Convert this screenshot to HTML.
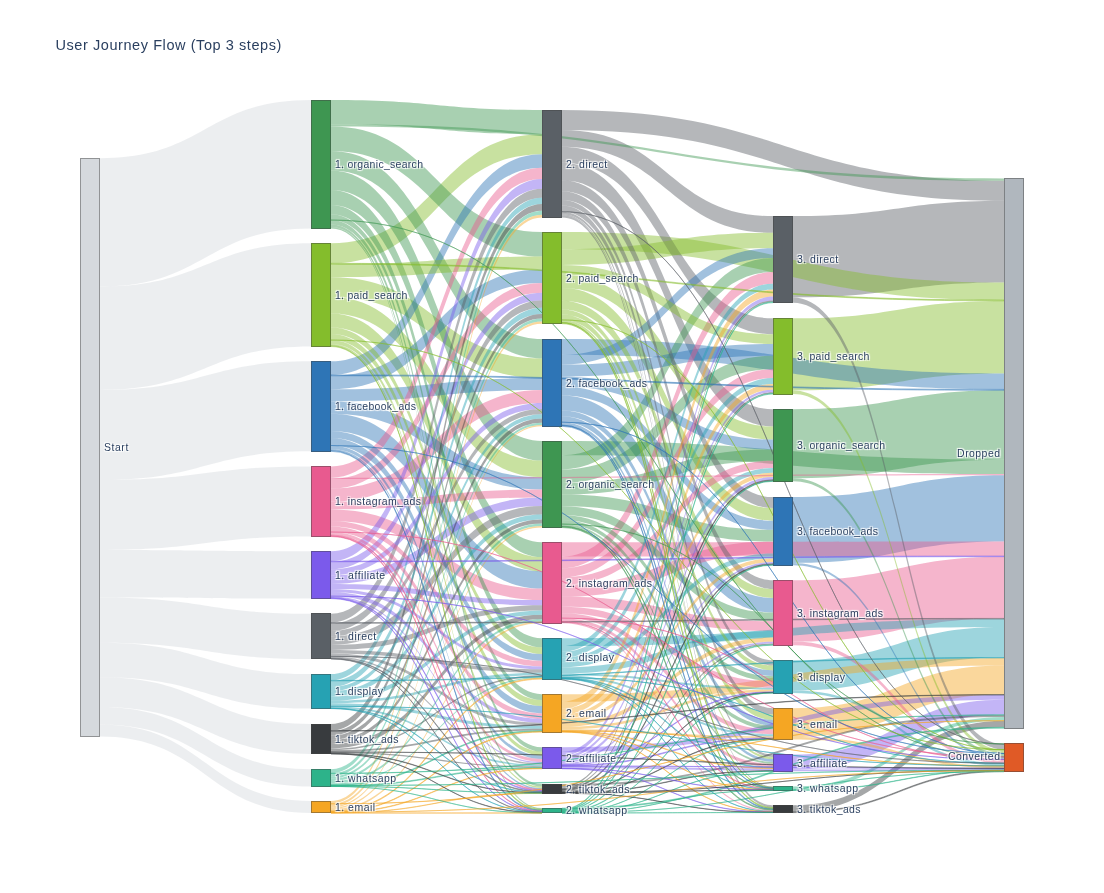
<!DOCTYPE html>
<html><head><meta charset="utf-8"><title>User Journey Flow</title>
<style>html,body{margin:0;padding:0;background:#fff;}body{width:1104px;height:893px;overflow:hidden;font-family:"Liberation Sans",sans-serif;}svg{display:block;}svg text{font-family:"Liberation Sans",sans-serif;fill:#2a3f5f;}svg text{-webkit-font-smoothing:antialiased;}.lb{font-size:10.5px;text-shadow:1px 1px 1px #fff,1px -1px 1px #fff,-1px 1px 1px #fff,-1px -1px 1px #fff;}.nd{stroke:#444;stroke-width:0.5;shape-rendering:crispEdges;}</style></head><body>
<svg style="will-change:transform" width="1104" height="893" viewBox="0 0 1104 893">
<rect x="0" y="0" width="1104" height="893" fill="#fff"/>
<g fill-opacity="0.45" stroke-opacity="0.45">
<g fill="#d5d9dd" stroke="#d5d9dd" stroke-width="0">
<path d="M100,158.2C205.5,158.2 205.5,100 311,100L311,228.4C205.5,228.4 205.5,286.6 100,286.6Z"/>
<path d="M100,286.6C205.5,286.6 205.5,243.3 311,243.3L311,346.5C205.5,346.5 205.5,389.9 100,389.9Z"/>
<path d="M100,389.9C205.5,389.9 205.5,361.3 311,361.3L311,451.3C205.5,451.3 205.5,479.9 100,479.9Z"/>
</g>
<g fill="#5a6066" stroke="#5a6066" stroke-width="0">
<path d="M793,216.1C898.5,216.1 898.5,200.8 1004,200.8L1004,282.6C898.5,282.6 898.5,297.4 793,297.4Z"/>
</g>
<g fill="#84bd2c" stroke="#84bd2c" stroke-width="0">
<path d="M793,318.3C898.5,318.3 898.5,300.9 1004,300.9L1004,373.6C898.5,373.6 898.5,390.5 793,390.5Z"/>
</g>
<g fill="#d5d9dd" stroke="#d5d9dd" stroke-width="0">
<path d="M100,479.9C205.5,479.9 205.5,466.4 311,466.4L311,536.5C205.5,536.5 205.5,550 100,550Z"/>
</g>
<g fill="#3e9651" stroke="#3e9651" stroke-width="0">
<path d="M793,409.2C898.5,409.2 898.5,390.3 1004,390.3L1004,459.7C898.5,459.7 898.5,478.2 793,478.2Z"/>
</g>
<g fill="#2e75b6" stroke="#2e75b6" stroke-width="0">
<path d="M793,497.1C898.5,497.1 898.5,475.3 1004,475.3L1004,541.5C898.5,541.5 898.5,562.9 793,562.9Z"/>
</g>
<g fill="#e85a8f" stroke="#e85a8f" stroke-width="0">
<path d="M793,580.3C898.5,580.3 898.5,556.7 1004,556.7L1004,618.4C898.5,618.4 898.5,641.6 793,641.6Z"/>
</g>
<g fill="#d5d9dd" stroke="#d5d9dd" stroke-width="0">
<path d="M100,550C205.5,550 205.5,551.3 311,551.3L311,598.6C205.5,598.6 205.5,597.4 100,597.4Z"/>
<path d="M100,597.4C205.5,597.4 205.5,613.7 311,613.7L311,659C205.5,659 205.5,642.7 100,642.7Z"/>
<path d="M100,642.7C205.5,642.7 205.5,674.1 311,674.1L311,708.6C205.5,708.6 205.5,677.2 100,677.2Z"/>
</g>
<g fill="#26a2b3" stroke="#26a2b3" stroke-width="0">
<path d="M793,660.3C898.5,660.3 898.5,627 1004,627L1004,657.5C898.5,657.5 898.5,690.6 793,690.6Z"/>
</g>
<g fill="#d5d9dd" stroke="#d5d9dd" stroke-width="0">
<path d="M100,677.2C205.5,677.2 205.5,724 311,724L311,753.9C205.5,753.9 205.5,707.1 100,707.1Z"/>
</g>
<g fill="#f5a623" stroke="#f5a623" stroke-width="0">
<path d="M793,708.2C898.5,708.2 898.5,665.5 1004,665.5L1004,694.6C898.5,694.6 898.5,737.1 793,737.1Z"/>
</g>
<g fill="#84bd2c" stroke="#84bd2c" stroke-width="0">
<path d="M331,243.3C436.5,243.3 436.5,134.2 542,134.2L542,154.2C436.5,154.2 436.5,263.3 331,263.3Z"/>
</g>
<g fill="#3e9651" stroke="#3e9651" stroke-width="0">
<path d="M331,126.6C436.5,126.6 436.5,232.1 542,232.1L542,256.6C436.5,256.6 436.5,151.1 331,151.1Z"/>
<path d="M331,100C436.5,100 436.5,110 542,110L542,134.2C436.5,134.2 436.5,124.3 331,124.3Z"/>
</g>
<g fill="#5a6066" stroke="#5a6066" stroke-width="0">
<path d="M562,110C783,110 783,180.8 1004,180.8L1004,200.8C783,200.8 783,129.9 562,129.9Z"/>
</g>
<g fill="#84bd2c" stroke="#84bd2c" stroke-width="0">
<path d="M331,277.2C436.5,277.2 436.5,358.4 542,358.4L542,378C436.5,378 436.5,296.9 331,296.9Z"/>
</g>
<g fill="#3e9651" stroke="#3e9651" stroke-width="0">
<path d="M331,170.5C436.5,170.5 436.5,441 542,441L542,460.6C436.5,460.6 436.5,190.1 331,190.1Z"/>
<path d="M331,151.1C436.5,151.1 436.5,339.1 542,339.1L542,358.4C436.5,358.4 436.5,170.5 331,170.5Z"/>
</g>
<g fill="#5a6066" stroke="#5a6066" stroke-width="0">
<path d="M562,162.8C667.5,162.8 667.5,409.2 773,409.2L773,426.5C667.5,426.5 667.5,180.2 562,180.2Z"/>
</g>
<g fill="#2e75b6" stroke="#2e75b6" stroke-width="0">
<path d="M331,413.8C436.5,413.8 436.5,571.2 542,571.2L542,588.6C436.5,588.6 436.5,431.1 331,431.1Z"/>
</g>
<g fill="#d5d9dd" stroke="#d5d9dd" stroke-width="0">
<path d="M100,707.1C205.5,707.1 205.5,769.2 311,769.2L311,786.5C205.5,786.5 205.5,724.4 100,724.4Z"/>
</g>
<g fill="#84bd2c" stroke="#84bd2c" stroke-width="0">
<path d="M562,232.1C783,232.1 783,282.6 1004,282.6L1004,300C783,300 783,249.3 562,249.3Z"/>
</g>
<g fill="#5a6066" stroke="#5a6066" stroke-width="0">
<path d="M562,129.9C667.5,129.9 667.5,216.1 773,216.1L773,232.8C667.5,232.8 667.5,146.7 562,146.7Z"/>
</g>
<g fill="#84bd2c" stroke="#84bd2c" stroke-width="0">
<path d="M331,296.9C436.5,296.9 436.5,460.6 542,460.6L542,477.2C436.5,477.2 436.5,313.4 331,313.4Z"/>
</g>
<g fill="#5a6066" stroke="#5a6066" stroke-width="0">
<path d="M562,146.7C667.5,146.7 667.5,318.3 773,318.3L773,334.2C667.5,334.2 667.5,162.8 562,162.8Z"/>
</g>
<g fill="#2e75b6" stroke="#2e75b6" stroke-width="0">
<path d="M562,339.1C783,339.1 783,373.6 1004,373.6L1004,389.4C783,389.4 783,354.8 562,354.8Z"/>
</g>
<g fill="#84bd2c" stroke="#84bd2c" stroke-width="0">
<path d="M562,249.3C667.5,249.3 667.5,232.8 773,232.8L773,248.3C667.5,248.3 667.5,264.9 562,264.9Z"/>
</g>
<g fill="#7b5aeb" stroke="#7b5aeb" stroke-width="0">
<path d="M793,754.5C898.5,754.5 898.5,699.7 1004,699.7L1004,714.8C898.5,714.8 898.5,769.5 793,769.5Z"/>
</g>
<g fill="#3e9651" stroke="#3e9651" stroke-width="0">
<path d="M331,190.1C436.5,190.1 436.5,542.2 542,542.2L542,557.1C436.5,557.1 436.5,205 331,205Z"/>
</g>
<g fill="#2e75b6" stroke="#2e75b6" stroke-width="0">
<path d="M562,395.6C667.5,395.6 667.5,597.9 773,597.9L773,612.6C667.5,612.6 667.5,410.4 562,410.4Z"/>
</g>
<g fill="#e85a8f" stroke="#e85a8f" stroke-width="0">
<path d="M562,542.2C783,542.2 783,541.5 1004,541.5L1004,556C783,556 783,556.6 562,556.6Z"/>
</g>
<g fill="#3e9651" stroke="#3e9651" stroke-width="0">
<path d="M562,441C783,441 783,459.7 1004,459.7L1004,474.1C783,474.1 783,455.3 562,455.3Z"/>
<path d="M562,455.3C667.5,455.3 667.5,258 773,258L773,272.1C667.5,272.1 667.5,469.5 562,469.5Z"/>
</g>
<g fill="#84bd2c" stroke="#84bd2c" stroke-width="0">
<path d="M331,313.4C436.5,313.4 436.5,557.1 542,557.1L542,571.2C436.5,571.2 436.5,327.6 331,327.6Z"/>
</g>
<g fill="#3e9651" stroke="#3e9651" stroke-width="0">
<path d="M562,469.5C667.5,469.5 667.5,355.7 773,355.7L773,369.2C667.5,369.2 667.5,483.1 562,483.1Z"/>
</g>
<g fill="#2e75b6" stroke="#2e75b6" stroke-width="0">
<path d="M331,361.3C436.5,361.3 436.5,154.2 542,154.2L542,167.8C436.5,167.8 436.5,374.9 331,374.9Z"/>
<path d="M331,375.8C436.5,375.8 436.5,269.5 542,269.5L542,283C436.5,283 436.5,389.3 331,389.3Z"/>
</g>
<g fill="#84bd2c" stroke="#84bd2c" stroke-width="0">
<path d="M562,274.7C667.5,274.7 667.5,426.5 773,426.5L773,439.6C667.5,439.6 667.5,287.9 562,287.9Z"/>
<path d="M331,264.2C436.5,264.2 436.5,256.6 542,256.6L542,269.5C436.5,269.5 436.5,277.2 331,277.2Z"/>
</g>
<g fill="#e85a8f" stroke="#e85a8f" stroke-width="0">
<path d="M331,488.6C436.5,488.6 436.5,390.1 542,390.1L542,402.9C436.5,402.9 436.5,501.5 331,501.5Z"/>
</g>
<g fill="#84bd2c" stroke="#84bd2c" stroke-width="0">
<path d="M562,287.9C667.5,287.9 667.5,508 773,508L773,520.7C667.5,520.7 667.5,300.7 562,300.7Z"/>
</g>
<g fill="#2e75b6" stroke="#2e75b6" stroke-width="0">
<path d="M331,401.4C436.5,401.4 436.5,477.2 542,477.2L542,489.5C436.5,489.5 436.5,413.8 331,413.8Z"/>
</g>
<g fill="#e85a8f" stroke="#e85a8f" stroke-width="0">
<path d="M562,584.7C667.5,584.7 667.5,541.6 773,541.6L773,553.6C667.5,553.6 667.5,596.8 562,596.8Z"/>
</g>
<g fill="#2e75b6" stroke="#2e75b6" stroke-width="0">
<path d="M331,389.3C436.5,389.3 436.5,378 542,378L542,390.1C436.5,390.1 436.5,401.4 331,401.4Z"/>
</g>
<g fill="#d5d9dd" stroke="#d5d9dd" stroke-width="0">
<path d="M100,724.4C205.5,724.4 205.5,801 311,801L311,813C205.5,813 205.5,736.4 100,736.4Z"/>
</g>
<g fill="#2e75b6" stroke="#2e75b6" stroke-width="0">
<path d="M562,364.6C667.5,364.6 667.5,343.9 773,343.9L773,355.7C667.5,355.7 667.5,376.5 562,376.5Z"/>
</g>
<g fill="#3e9651" stroke="#3e9651" stroke-width="0">
<path d="M562,494.5C667.5,494.5 667.5,529.8 773,529.8L773,541.6C667.5,541.6 667.5,506.3 562,506.3Z"/>
</g>
<g fill="#e85a8f" stroke="#e85a8f" stroke-width="0">
<path d="M562,556.6C667.5,556.6 667.5,272.1 773,272.1L773,283.7C667.5,283.7 667.5,568.3 562,568.3Z"/>
<path d="M331,509.4C436.5,509.4 436.5,588.6 542,588.6L542,600.1C436.5,600.1 436.5,521 331,521Z"/>
</g>
<g fill="#3e9651" stroke="#3e9651" stroke-width="0">
<path d="M562,483.1C667.5,483.1 667.5,449.5 773,449.5L773,460.8C667.5,460.8 667.5,494.5 562,494.5Z"/>
</g>
<g fill="#e85a8f" stroke="#e85a8f" stroke-width="0">
<path d="M331,466.4C436.5,466.4 436.5,167.8 542,167.8L542,179.1C436.5,179.1 436.5,477.7 331,477.7Z"/>
</g>
<g fill="#5a6066" stroke="#5a6066" stroke-width="0">
<path d="M562,180.2C667.5,180.2 667.5,497.1 773,497.1L773,508C667.5,508 667.5,191.3 562,191.3Z"/>
</g>
<g fill="#e85a8f" stroke="#e85a8f" stroke-width="0">
<path d="M562,596.8C667.5,596.8 667.5,621.2 773,621.2L773,631.1C667.5,631.1 667.5,606.8 562,606.8Z"/>
</g>
<g fill="#2e75b6" stroke="#2e75b6" stroke-width="0">
<path d="M562,376.5C667.5,376.5 667.5,439.6 773,439.6L773,449.5C667.5,449.5 667.5,386.4 562,386.4Z"/>
<path d="M562,354.8C667.5,354.8 667.5,248.3 773,248.3L773,258C667.5,258 667.5,364.6 562,364.6Z"/>
</g>
<g fill="#7b5aeb" stroke="#7b5aeb" stroke-width="0">
<path d="M331,551.3C436.5,551.3 436.5,179.1 542,179.1L542,188.8C436.5,188.8 436.5,561.1 331,561.1Z"/>
</g>
<g fill="#84bd2c" stroke="#84bd2c" stroke-width="0">
<path d="M562,264.9C667.5,264.9 667.5,334.2 773,334.2L773,343.9C667.5,343.9 667.5,274.7 562,274.7Z"/>
</g>
<g fill="#e85a8f" stroke="#e85a8f" stroke-width="0">
<path d="M331,478.9C436.5,478.9 436.5,283 542,283L542,292.7C436.5,292.7 436.5,488.6 331,488.6Z"/>
</g>
<g fill="#2e75b6" stroke="#2e75b6" stroke-width="0">
<path d="M562,386.4C667.5,386.4 667.5,520.7 773,520.7L773,529.8C667.5,529.8 667.5,395.6 562,395.6Z"/>
</g>
<g fill="#3e9651" stroke="#3e9651" stroke-width="0">
<path d="M331,205C436.5,205 436.5,638.3 542,638.3L542,647.4C436.5,647.4 436.5,214.2 331,214.2Z"/>
</g>
<g fill="#e85a8f" stroke="#e85a8f" stroke-width="0">
<path d="M562,568.3C667.5,568.3 667.5,369.2 773,369.2L773,378.1C667.5,378.1 667.5,577.3 562,577.3Z"/>
</g>
<g fill="#84bd2c" stroke="#84bd2c" stroke-width="0">
<path d="M562,300.7C667.5,300.7 667.5,589 773,589L773,597.9C667.5,597.9 667.5,309.6 562,309.6Z"/>
</g>
<g fill="#5a6066" stroke="#5a6066" stroke-width="0">
<path d="M331,613.7C436.5,613.7 436.5,188.8 542,188.8L542,197.7C436.5,197.7 436.5,622.6 331,622.6Z"/>
<path d="M562,191.3C667.5,191.3 667.5,580.3 773,580.3L773,589C667.5,589 667.5,200.1 562,200.1Z"/>
</g>
<g fill="#7b5aeb" stroke="#7b5aeb" stroke-width="0">
<path d="M331,575.3C436.5,575.3 436.5,497.4 542,497.4L542,506C436.5,506 436.5,583.9 331,583.9Z"/>
</g>
<g fill="#3e9651" stroke="#3e9651" stroke-width="0">
<path d="M562,506.3C667.5,506.3 667.5,612.6 773,612.6L773,621.2C667.5,621.2 667.5,514.9 562,514.9Z"/>
</g>
<g fill="#5a6066" stroke="#5a6066" stroke-width="0">
<path d="M331,636.4C436.5,636.4 436.5,506 542,506L542,514.5C436.5,514.5 436.5,644.9 331,644.9Z"/>
</g>
<g fill="#e85a8f" stroke="#e85a8f" stroke-width="0">
<path d="M331,501.5C436.5,501.5 436.5,489.5 542,489.5L542,497.4C436.5,497.4 436.5,509.4 331,509.4Z"/>
</g>
<g fill="#26a2b3" stroke="#26a2b3" stroke-width="0">
<path d="M562,638.3C783,638.3 783,619.1 1004,619.1L1004,627C783,627 783,646.1 562,646.1Z"/>
</g>
<g fill="#5a6066" stroke="#5a6066" stroke-width="0">
<path d="M331,623.3C436.5,623.3 436.5,300.2 542,300.2L542,307.8C436.5,307.8 436.5,631 331,631Z"/>
</g>
<g fill="#f5a623" stroke="#f5a623" stroke-width="0">
<path d="M562,694.2C783,694.2 783,658 1004,658L1004,665.5C783,665.5 783,701.7 562,701.7Z"/>
</g>
<g fill="#7b5aeb" stroke="#7b5aeb" stroke-width="0">
<path d="M331,561.8C436.5,561.8 436.5,292.7 542,292.7L542,300.2C436.5,300.2 436.5,569.3 331,569.3Z"/>
</g>
<g fill="#2e75b6" stroke="#2e75b6" stroke-width="0">
<path d="M331,438.1C436.5,438.1 436.5,706 542,706L542,713.4C436.5,713.4 436.5,445.5 331,445.5Z"/>
</g>
<g fill="#e85a8f" stroke="#e85a8f" stroke-width="0">
<path d="M562,577.3C667.5,577.3 667.5,460.8 773,460.8L773,468.1C667.5,468.1 667.5,584.7 562,584.7Z"/>
</g>
<g fill="#f5a623" stroke="#f5a623" stroke-width="0">
<path d="M562,701.7C667.5,701.7 667.5,289.4 773,289.4L773,296.5C667.5,296.5 667.5,708.8 562,708.8Z"/>
</g>
<g fill="#2e75b6" stroke="#2e75b6" stroke-width="0">
<path d="M331,431.1C436.5,431.1 436.5,653.9 542,653.9L542,660.8C436.5,660.8 436.5,438.1 331,438.1Z"/>
</g>
<g fill="#383b3e" stroke="#383b3e" stroke-width="0">
<path d="M331,724C436.5,724 436.5,204 542,204L542,210.7C436.5,210.7 436.5,730.7 331,730.7Z"/>
<path d="M793,805.3C898.5,805.3 898.5,720.8 1004,720.8L1004,727.3C898.5,727.3 898.5,811.8 793,811.8Z"/>
</g>
<g fill="#e85a8f" stroke="#e85a8f" stroke-width="0">
<path d="M562,606.8C667.5,606.8 667.5,681.2 773,681.2L773,687.7C667.5,687.7 667.5,613.3 562,613.3Z"/>
</g>
<g fill="#84bd2c" stroke="#84bd2c" stroke-width="0">
<path d="M331,327.6C436.5,327.6 436.5,647.4 542,647.4L542,653.9C436.5,653.9 436.5,334 331,334Z"/>
</g>
<g fill="#26a2b3" stroke="#26a2b3" stroke-width="0">
<path d="M562,667.2C667.5,667.2 667.5,631.1 773,631.1L773,637.5C667.5,637.5 667.5,673.6 562,673.6Z"/>
<path d="M331,674.1C436.5,674.1 436.5,197.7 542,197.7L542,204C436.5,204 436.5,680.4 331,680.4Z"/>
</g>
<g fill="#5a6066" stroke="#5a6066" stroke-width="0">
<path d="M562,205.4C667.5,205.4 667.5,708.2 773,708.2L773,714.3C667.5,714.3 667.5,211.6 562,211.6Z"/>
</g>
<g fill="#26a2b3" stroke="#26a2b3" stroke-width="0">
<path d="M331,680.9C436.5,680.9 436.5,307.8 542,307.8L542,313.9C436.5,313.9 436.5,687 331,687Z"/>
</g>
<g fill="#7b5aeb" stroke="#7b5aeb" stroke-width="0">
<path d="M331,569.3C436.5,569.3 436.5,402.9 542,402.9L542,408.9C436.5,408.9 436.5,575.3 331,575.3Z"/>
</g>
<g fill="#84bd2c" stroke="#84bd2c" stroke-width="0">
<path d="M331,334C436.5,334 436.5,700.1 542,700.1L542,706C436.5,706 436.5,340 331,340Z"/>
</g>
<g fill="#3e9651" stroke="#3e9651" stroke-width="0">
<path d="M331,214.2C436.5,214.2 436.5,694.2 542,694.2L542,700.1C436.5,700.1 436.5,220 331,220Z"/>
</g>
<g fill="#f5a623" stroke="#f5a623" stroke-width="0">
<path d="M562,708.8C667.5,708.8 667.5,383.9 773,383.9L773,389.7C667.5,389.7 667.5,714.7 562,714.7Z"/>
</g>
<g fill="#2e75b6" stroke="#2e75b6" stroke-width="0">
<path d="M562,416.3C667.5,416.3 667.5,719.8 773,719.8L773,725.6C667.5,725.6 667.5,422.1 562,422.1Z"/>
<path d="M562,410.4C667.5,410.4 667.5,670.3 773,670.3L773,676.1C667.5,676.1 667.5,416.3 562,416.3Z"/>
</g>
<g fill="#26a2b3" stroke="#26a2b3" stroke-width="0">
<path d="M562,651.8C667.5,651.8 667.5,378.1 773,378.1L773,383.9C667.5,383.9 667.5,657.6 562,657.6Z"/>
<path d="M562,646.1C667.5,646.1 667.5,283.7 773,283.7L773,289.4C667.5,289.4 667.5,651.8 562,651.8Z"/>
</g>
<g fill="#e85a8f" stroke="#e85a8f" stroke-width="0">
<path d="M331,521C436.5,521 436.5,660.8 542,660.8L542,666.4C436.5,666.4 436.5,526.6 331,526.6Z"/>
</g>
<g fill="#84bd2c" stroke="#84bd2c" stroke-width="0">
<path d="M562,314.4C667.5,314.4 667.5,714.3 773,714.3L773,719.8C667.5,719.8 667.5,319.9 562,319.9Z"/>
</g>
<g fill="#5a6066" stroke="#5a6066" stroke-width="0">
<path d="M331,631C436.5,631 436.5,408.9 542,408.9L542,414.3C436.5,414.3 436.5,636.4 331,636.4Z"/>
</g>
<g fill="#e85a8f" stroke="#e85a8f" stroke-width="0">
<path d="M331,526.6C436.5,526.6 436.5,713.4 542,713.4L542,718.8C436.5,718.8 436.5,532 331,532Z"/>
</g>
<g fill="#5a6066" stroke="#5a6066" stroke-width="0">
<path d="M562,200.1C667.5,200.1 667.5,660.3 773,660.3L773,665.6C667.5,665.6 667.5,205.4 562,205.4Z"/>
<path d="M793,297.4C898.5,297.4 898.5,744.1 1004,744.1L1004,749.5C898.5,749.5 898.5,302.7 793,302.7Z"/>
</g>
<g fill="#7b5aeb" stroke="#7b5aeb" stroke-width="0">
<path d="M331,583.9C436.5,583.9 436.5,600.1 542,600.1L542,605.3C436.5,605.3 436.5,589.1 331,589.1Z"/>
</g>
<g fill="#3e9651" stroke="#3e9651" stroke-width="0">
<path d="M562,514.9C667.5,514.9 667.5,676.1 773,676.1L773,681.2C667.5,681.2 667.5,520.1 562,520.1Z"/>
</g>
<g fill="#5a6066" stroke="#5a6066" stroke-width="0">
<path d="M331,644.9C436.5,644.9 436.5,605.3 542,605.3L542,610.4C436.5,610.4 436.5,650 331,650Z"/>
</g>
<g fill="#26a2b3" stroke="#26a2b3" stroke-width="0">
<path d="M331,691.2C436.5,691.2 436.5,514.5 542,514.5L542,519.6C436.5,519.6 436.5,696.3 331,696.3Z"/>
<path d="M562,662.3C667.5,662.3 667.5,553.6 773,553.6L773,558.4C667.5,558.4 667.5,667.2 562,667.2Z"/>
</g>
<g fill="#e85a8f" stroke="#e85a8f" stroke-width="0">
<path d="M562,613.3C667.5,613.3 667.5,729.5 773,729.5L773,734.2C667.5,734.2 667.5,618.1 562,618.1Z"/>
</g>
<g fill="#84bd2c" stroke="#84bd2c" stroke-width="0">
<path d="M562,309.6C667.5,309.6 667.5,665.6 773,665.6L773,670.3C667.5,670.3 667.5,314.4 562,314.4Z"/>
</g>
<g fill="#7b5aeb" stroke="#7b5aeb" stroke-width="0">
<path d="M562,747.2C783,747.2 783,695 1004,695L1004,699.7C783,699.7 783,751.9 562,751.9Z"/>
</g>
<g fill="#26a2b3" stroke="#26a2b3" stroke-width="0">
<path d="M562,657.6C667.5,657.6 667.5,468.1 773,468.1L773,472.7C667.5,472.7 667.5,662.3 562,662.3Z"/>
</g>
<g fill="#383b3e" stroke="#383b3e" stroke-width="0">
<path d="M331,743.9C436.5,743.9 436.5,614.7 542,614.7L542,619.3C436.5,619.3 436.5,748.5 331,748.5Z"/>
<path d="M331,731.1C436.5,731.1 436.5,313.9 542,313.9L542,318.5C436.5,318.5 436.5,735.7 331,735.7Z"/>
</g>
<g fill="#3e9651" stroke="#3e9651" stroke-width="0">
<path d="M331,220.1C436.5,220.1 436.5,747.2 542,747.2L542,751.7C436.5,751.7 436.5,224.6 331,224.6Z"/>
</g>
<g fill="#26a2b3" stroke="#26a2b3" stroke-width="0">
<path d="M331,696.3C436.5,696.3 436.5,610.4 542,610.4L542,614.7C436.5,614.7 436.5,700.7 331,700.7Z"/>
</g>
<g fill="#f5a623" stroke="#f5a623" stroke-width="0">
<path d="M562,722.6C667.5,722.6 667.5,637.5 773,637.5L773,641.8C667.5,641.8 667.5,726.9 562,726.9Z"/>
</g>
<g fill="#383b3e" stroke="#383b3e" stroke-width="0">
<path d="M331,735.7C436.5,735.7 436.5,418.6 542,418.6L542,422.8C436.5,422.8 436.5,740 331,740Z"/>
</g>
<g fill="#f5a623" stroke="#f5a623" stroke-width="0">
<path d="M562,714.7C667.5,714.7 667.5,472.7 773,472.7L773,477C667.5,477 667.5,718.9 562,718.9Z"/>
</g>
<g fill="#26a2b3" stroke="#26a2b3" stroke-width="0">
<path d="M331,687C436.5,687 436.5,414.3 542,414.3L542,418.6C436.5,418.6 436.5,691.2 331,691.2Z"/>
</g>
<g fill="#7b5aeb" stroke="#7b5aeb" stroke-width="0">
<path d="M331,592C436.5,592 436.5,718.8 542,718.8L542,722.9C436.5,722.9 436.5,596.1 331,596.1Z"/>
</g>
<g fill="#2db38a" stroke="#2db38a" stroke-width="0">
<path d="M331,769.2C436.5,769.2 436.5,210.7 542,210.7L542,214.7C436.5,214.7 436.5,773.2 331,773.2Z"/>
</g>
<g fill="#383b3e" stroke="#383b3e" stroke-width="0">
<path d="M331,740C436.5,740 436.5,519.6 542,519.6L542,523.5C436.5,523.5 436.5,743.9 331,743.9Z"/>
</g>
<g fill="#7b5aeb" stroke="#7b5aeb" stroke-width="0">
<path d="M562,751.9C667.5,751.9 667.5,296.5 773,296.5L773,300.4C667.5,300.4 667.5,755.8 562,755.8Z"/>
</g>
<g fill="#84bd2c" stroke="#84bd2c" stroke-width="0">
<path d="M331,340.1C436.5,340.1 436.5,751.7 542,751.7L542,755.6C436.5,755.6 436.5,344 331,344Z"/>
</g>
<g fill="#3e9651" stroke="#3e9651" stroke-width="0">
<path d="M562,520.1C667.5,520.1 667.5,725.6 773,725.6L773,729.5C667.5,729.5 667.5,524 562,524Z"/>
</g>
<g fill="#f5a623" stroke="#f5a623" stroke-width="0">
<path d="M562,718.9C667.5,718.9 667.5,558.4 773,558.4L773,562.1C667.5,562.1 667.5,722.6 562,722.6Z"/>
</g>
<g fill="#e85a8f" stroke="#e85a8f" stroke-width="0">
<path d="M793,641.6C898.5,641.6 898.5,759.5 1004,759.5L1004,763.2C898.5,763.2 898.5,645.2 793,645.2Z"/>
</g>
<g fill="#84bd2c" stroke="#84bd2c" stroke-width="0">
<path d="M793,390.5C898.5,390.5 898.5,749.7 1004,749.7L1004,753.4C898.5,753.4 898.5,394.1 793,394.1Z"/>
</g>
<g fill="#2db38a" stroke="#2db38a" stroke-width="0">
<path d="M793,786.4C898.5,786.4 898.5,716.9 1004,716.9L1004,720.6C898.5,720.6 898.5,790 793,790Z"/>
</g>
<g fill="#5a6066" stroke="#5a6066" stroke-width="0">
<path d="M331,650C436.5,650 436.5,669.3 542,669.3L542,672.8C436.5,672.8 436.5,653.5 331,653.5Z"/>
</g>
<g fill="#2e75b6" stroke="#2e75b6" stroke-width="0">
<path d="M331,445.5C436.5,445.5 436.5,755.6 542,755.6L542,759C436.5,759 436.5,448.9 331,448.9Z"/>
</g>
<g fill="#e85a8f" stroke="#e85a8f" stroke-width="0">
<path d="M562,618.2C667.5,618.2 667.5,763.8 773,763.8L773,767.1C667.5,767.1 667.5,621.5 562,621.5Z"/>
</g>
<g fill="#3e9651" stroke="#3e9651" stroke-width="0">
<path d="M793,478.2C898.5,478.2 898.5,753.6 1004,753.6L1004,756.8C898.5,756.8 898.5,481.3 793,481.3Z"/>
</g>
<g fill="#26a2b3" stroke="#26a2b3" stroke-width="0">
<path d="M331,703.2C436.5,703.2 436.5,725.8 542,725.8L542,728.8C436.5,728.8 436.5,706.3 331,706.3Z"/>
</g>
<g fill="#e85a8f" stroke="#e85a8f" stroke-width="0">
<path d="M331,532C436.5,532 436.5,759 542,759L542,762C436.5,762 436.5,535 331,535Z"/>
</g>
<g fill="#2db38a" stroke="#2db38a" stroke-width="0">
<path d="M331,773.5C436.5,773.5 436.5,318.5 542,318.5L542,321.4C436.5,321.4 436.5,776.4 331,776.4Z"/>
</g>
<g fill="#7b5aeb" stroke="#7b5aeb" stroke-width="0">
<path d="M331,589.1C436.5,589.1 436.5,666.4 542,666.4L542,669.3C436.5,669.3 436.5,592 331,592Z"/>
<path d="M562,758.3C667.5,758.3 667.5,477 773,477L773,479.8C667.5,479.8 667.5,761.2 562,761.2Z"/>
</g>
<g fill="#5a6066" stroke="#5a6066" stroke-width="0">
<path d="M331,653.5C436.5,653.5 436.5,722.9 542,722.9L542,725.8C436.5,725.8 436.5,656.4 331,656.4Z"/>
</g>
<g fill="#2e75b6" stroke="#2e75b6" stroke-width="0">
<path d="M562,422.2C667.5,422.2 667.5,759.1 773,759.1L773,761.9C667.5,761.9 667.5,425 562,425Z"/>
</g>
<g fill="#f5a623" stroke="#f5a623" stroke-width="0">
<path d="M331,801C436.5,801 436.5,214.7 542,214.7L542,217.4C436.5,217.4 436.5,803.7 331,803.7Z"/>
</g>
<g fill="#26a2b3" stroke="#26a2b3" stroke-width="0">
<path d="M331,700.7C436.5,700.7 436.5,672.8 542,672.8L542,675.3C436.5,675.3 436.5,703.2 331,703.2Z"/>
<path d="M793,690.6C898.5,690.6 898.5,763.3 1004,763.3L1004,765.9C898.5,765.9 898.5,693.1 793,693.1Z"/>
</g>
<g fill="#2db38a" stroke="#2db38a" stroke-width="0">
<path d="M331,778.6C436.5,778.6 436.5,523.5 542,523.5L542,526C436.5,526 436.5,781.1 331,781.1Z"/>
</g>
<g fill="#7b5aeb" stroke="#7b5aeb" stroke-width="0">
<path d="M562,755.8C667.5,755.8 667.5,389.7 773,389.7L773,392.2C667.5,392.2 667.5,758.3 562,758.3Z"/>
</g>
<g fill="#3e9651" stroke="#3e9651" stroke-width="0">
<path d="M331,224.6C436.5,224.6 436.5,784 542,784L542,786.5C436.5,786.5 436.5,227.1 331,227.1Z"/>
</g>
<g fill="#5a6066" stroke="#5a6066" stroke-width="0">
<path d="M562,211.8C667.5,211.8 667.5,754.5 773,754.5L773,756.9C667.5,756.9 667.5,214.2 562,214.2Z"/>
</g>
<g fill="#f5a623" stroke="#f5a623" stroke-width="0">
<path d="M562,726.9C667.5,726.9 667.5,689.5 773,689.5L773,691.8C667.5,691.8 667.5,729.3 562,729.3Z"/>
</g>
<g fill="#2e75b6" stroke="#2e75b6" stroke-width="0">
<path d="M793,562.9C898.5,562.9 898.5,756.9 1004,756.9L1004,759.3C898.5,759.3 898.5,565.2 793,565.2Z"/>
</g>
<g fill="#f5a623" stroke="#f5a623" stroke-width="0">
<path d="M331,803.9C436.5,803.9 436.5,321.4 542,321.4L542,323.7C436.5,323.7 436.5,806.2 331,806.2Z"/>
</g>
<g fill="#3e9651" stroke="#3e9651" stroke-width="0">
<path d="M331,124.3C667.5,124.3 667.5,178.5 1004,178.5L1004,180.8C667.5,180.8 667.5,126.6 331,126.6Z"/>
</g>
<g fill="#f5a623" stroke="#f5a623" stroke-width="0">
<path d="M793,737.1C898.5,737.1 898.5,766 1004,766L1004,768.3C898.5,768.3 898.5,739.4 793,739.4Z"/>
</g>
<g fill="#2db38a" stroke="#2db38a" stroke-width="0">
<path d="M331,781.1C436.5,781.1 436.5,619.3 542,619.3L542,621.6C436.5,621.6 436.5,783.4 331,783.4Z"/>
</g>
<g fill="#84bd2c" stroke="#84bd2c" stroke-width="0">
<path d="M562,320C667.5,320 667.5,756.9 773,756.9L773,759.1C667.5,759.1 667.5,322.3 562,322.3Z"/>
</g>
<g fill="#7b5aeb" stroke="#7b5aeb" stroke-width="0">
<path d="M562,766.1C667.5,766.1 667.5,768.5 773,768.5L773,770.6C667.5,770.6 667.5,768.3 562,768.3Z"/>
</g>
<g fill="#5a6066" stroke="#5a6066" stroke-width="0">
<path d="M562,215.2C667.5,215.2 667.5,805.3 773,805.3L773,807.5C667.5,807.5 667.5,217.4 562,217.4Z"/>
</g>
<g fill="#2db38a" stroke="#2db38a" stroke-width="0">
<path d="M331,776.4C436.5,776.4 436.5,422.8 542,422.8L542,425C436.5,425 436.5,778.6 331,778.6Z"/>
</g>
<g fill="#26a2b3" stroke="#26a2b3" stroke-width="0">
<path d="M562,675.5C667.5,675.5 667.5,734.2 773,734.2L773,736.4C667.5,736.4 667.5,677.6 562,677.6Z"/>
</g>
<g fill="#3e9651" stroke="#3e9651" stroke-width="0">
<path d="M562,524.1C667.5,524.1 667.5,761.9 773,761.9L773,763.8C667.5,763.8 667.5,526.1 562,526.1Z"/>
</g>
<g fill="#26a2b3" stroke="#26a2b3" stroke-width="0">
<path d="M562,673.6C667.5,673.6 667.5,687.7 773,687.7L773,689.5C667.5,689.5 667.5,675.5 562,675.5Z"/>
</g>
<g fill="#383b3e" stroke="#383b3e" stroke-width="0">
<path d="M331,750.2C436.5,750.2 436.5,728.8 542,728.8L542,730.6C436.5,730.6 436.5,752 331,752Z"/>
<path d="M562,784C783,784 783,715.1 1004,715.1L1004,716.9C783,716.9 783,785.8 562,785.8Z"/>
</g>
<g fill="#7b5aeb" stroke="#7b5aeb" stroke-width="0">
<path d="M793,769.5C898.5,769.5 898.5,768.4 1004,768.4L1004,770.2C898.5,770.2 898.5,771.3 793,771.3Z"/>
<path d="M562,761.2C667.5,761.2 667.5,562.1 773,562.1L773,563.8C667.5,563.8 667.5,763 562,763Z"/>
<path d="M562,763C667.5,763 667.5,641.8 773,641.8L773,643.5C667.5,643.5 667.5,764.7 562,764.7Z"/>
</g>
<g fill="#f5a623" stroke="#f5a623" stroke-width="0">
<path d="M331,809C436.5,809 436.5,621.6 542,621.6L542,623.3C436.5,623.3 436.5,810.7 331,810.7Z"/>
</g>
<g fill="#383b3e" stroke="#383b3e" stroke-width="0">
<path d="M331,748.5C436.5,748.5 436.5,675.3 542,675.3L542,677C436.5,677 436.5,750.2 331,750.2Z"/>
</g>
<g fill="#5a6066" stroke="#5a6066" stroke-width="0">
<path d="M331,656.4C436.5,656.4 436.5,763.2 542,763.2L542,764.8C436.5,764.8 436.5,658 331,658Z"/>
</g>
<g fill="#84bd2c" stroke="#84bd2c" stroke-width="0">
<path d="M331,344C436.5,344 436.5,786.5 542,786.5L542,788.1C436.5,788.1 436.5,345.6 331,345.6Z"/>
</g>
<g fill="#26a2b3" stroke="#26a2b3" stroke-width="0">
<path d="M331,706.3C436.5,706.3 436.5,764.8 542,764.8L542,766.4C436.5,766.4 436.5,707.9 331,707.9Z"/>
</g>
<g fill="#f5a623" stroke="#f5a623" stroke-width="0">
<path d="M562,729.3C667.5,729.3 667.5,736.4 773,736.4L773,737.9C667.5,737.9 667.5,730.9 562,730.9Z"/>
</g>
<g fill="#383b3e" stroke="#383b3e" stroke-width="0">
<path d="M562,785.8C667.5,785.8 667.5,300.4 773,300.4L773,301.9C667.5,301.9 667.5,787.4 562,787.4Z"/>
</g>
<g fill="#2e75b6" stroke="#2e75b6" stroke-width="0">
<path d="M331,448.9C436.5,448.9 436.5,788.1 542,788.1L542,789.6C436.5,789.6 436.5,450.4 331,450.4Z"/>
</g>
<g fill="#f5a623" stroke="#f5a623" stroke-width="0">
<path d="M331,807.5C436.5,807.5 436.5,526 542,526L542,527.5C436.5,527.5 436.5,809 331,809Z"/>
</g>
<g fill="#3e9651" stroke="#3e9651" stroke-width="0">
<path d="M331,227.1C436.5,227.1 436.5,808.1 542,808.1L542,809.4C436.5,809.4 436.5,228.4 331,228.4Z"/>
</g>
<g fill="#383b3e" stroke="#383b3e" stroke-width="0">
<path d="M562,787.4C667.5,787.4 667.5,392.2 773,392.2L773,393.4C667.5,393.4 667.5,788.7 562,788.7Z"/>
</g>
<g fill="#f5a623" stroke="#f5a623" stroke-width="0">
<path d="M331,806.2C436.5,806.2 436.5,425 542,425L542,426.3C436.5,426.3 436.5,807.5 331,807.5Z"/>
</g>
<g fill="#7b5aeb" stroke="#7b5aeb" stroke-width="0">
<path d="M331,596.2C436.5,596.2 436.5,762 542,762L542,763.2C436.5,763.2 436.5,597.4 331,597.4Z"/>
</g>
<g fill="#2db38a" stroke="#2db38a" stroke-width="0">
<path d="M331,783.4C436.5,783.4 436.5,677 542,677L542,678.2C436.5,678.2 436.5,784.6 331,784.6Z"/>
</g>
<g fill="#e85a8f" stroke="#e85a8f" stroke-width="0">
<path d="M331,477.7C667.5,477.7 667.5,474.1 1004,474.1L1004,475.3C667.5,475.3 667.5,478.9 331,478.9Z"/>
<path d="M562,622.1C667.5,622.1 667.5,810.2 773,810.2L773,811.4C667.5,811.4 667.5,623.3 562,623.3Z"/>
</g>
<g fill="#383b3e" stroke="#383b3e" stroke-width="0">
<path d="M331,752.1C436.5,752.1 436.5,766.4 542,766.4L542,767.5C436.5,767.5 436.5,753.2 331,753.2Z"/>
<path d="M562,790.6C667.5,790.6 667.5,643.5 773,643.5L773,644.6C667.5,644.6 667.5,791.7 562,791.7Z"/>
</g>
<g fill="#5a6066" stroke="#5a6066" stroke-width="0">
<path d="M562,214.2C667.5,214.2 667.5,786.4 773,786.4L773,787.4C667.5,787.4 667.5,215.2 562,215.2Z"/>
</g>
<g fill="#e85a8f" stroke="#e85a8f" stroke-width="0">
<path stroke-width="1" d="M331,535C436.5,535 436.5,789.6 542,789.6L542,790.6C436.5,790.6 436.5,536 331,536Z"/>
</g>
<g fill="#383b3e" stroke="#383b3e" stroke-width="0">
<path stroke-width="1" d="M562,788.7C667.5,788.7 667.5,479.8 773,479.8L773,480.8C667.5,480.8 667.5,789.7 562,789.7Z"/>
</g>
<g fill="#84bd2c" stroke="#84bd2c" stroke-width="0">
<path stroke-width="1" d="M331,263.3C667.5,263.3 667.5,300 1004,300L1004,300.9C667.5,300.9 667.5,264.2 331,264.2Z"/>
</g>
<g fill="#2e75b6" stroke="#2e75b6" stroke-width="0">
<path stroke-width="1" d="M331,374.9C667.5,374.9 667.5,389.4 1004,389.4L1004,390.3C667.5,390.3 667.5,375.8 331,375.8Z"/>
</g>
<g fill="#3e9651" stroke="#3e9651" stroke-width="0">
<path stroke-width="1" d="M562,526.6C667.5,526.6 667.5,809.3 773,809.3L773,810.2C667.5,810.2 667.5,527.5 562,527.5Z"/>
</g>
<g fill="#2e75b6" stroke="#2e75b6" stroke-width="0">
<path stroke-width="1" d="M562,425.4C667.5,425.4 667.5,808.4 773,808.4L773,809.3C667.5,809.3 667.5,426.3 562,426.3Z"/>
</g>
<g fill="#84bd2c" stroke="#84bd2c" stroke-width="0">
<path stroke-width="1" d="M562,322.8C667.5,322.8 667.5,807.5 773,807.5L773,808.4C667.5,808.4 667.5,323.7 562,323.7Z"/>
</g>
<g fill="#2db38a" stroke="#2db38a" stroke-width="0">
<path stroke-width="1" d="M562,808.1C783,808.1 783,727.3 1004,727.3L1004,728.2C783,728.2 783,809 562,809Z"/>
</g>
<g fill="#84bd2c" stroke="#84bd2c" stroke-width="0">
<path stroke-width="1" d="M331,345.6C436.5,345.6 436.5,809.4 542,809.4L542,810.3C436.5,810.3 436.5,346.5 331,346.5Z"/>
</g>
<g fill="#383b3e" stroke="#383b3e" stroke-width="0">
<path stroke-width="1" d="M562,789.7C667.5,789.7 667.5,563.8 773,563.8L773,564.7C667.5,564.7 667.5,790.6 562,790.6Z"/>
</g>
<g fill="#2e75b6" stroke="#2e75b6" stroke-width="0">
<path stroke-width="1" d="M331,450.4C436.5,450.4 436.5,810.3 542,810.3L542,811.2C436.5,811.2 436.5,451.3 331,451.3Z"/>
</g>
<g fill="#f5a623" stroke="#f5a623" stroke-width="0">
<path stroke-width="1" d="M331,810.7C436.5,810.7 436.5,678.2 542,678.2L542,679.1C436.5,679.1 436.5,811.6 331,811.6Z"/>
</g>
<g fill="#2db38a" stroke="#2db38a" stroke-width="0">
<path stroke-width="1" d="M331,784.6C436.5,784.6 436.5,730.6 542,730.6L542,731.5C436.5,731.5 436.5,785.4 331,785.4Z"/>
</g>
<g fill="#7b5aeb" stroke="#7b5aeb" stroke-width="0">
<path stroke-width="1" d="M331,597.4C436.5,597.4 436.5,790.6 542,790.6L542,791.4C436.5,791.4 436.5,598.2 331,598.2Z"/>
<path stroke-width="1" d="M562,765.3C667.5,765.3 667.5,737.9 773,737.9L773,738.7C667.5,738.7 667.5,766.1 562,766.1Z"/>
</g>
<g fill="#383b3e" stroke="#383b3e" stroke-width="0">
<path stroke-width="1" d="M793,811.8C898.5,811.8 898.5,770.7 1004,770.7L1004,771.6C898.5,771.6 898.5,812.6 793,812.6Z"/>
</g>
<g fill="#2db38a" stroke="#2db38a" stroke-width="0">
<path stroke-width="1" d="M562,809C667.5,809 667.5,301.9 773,301.9L773,302.7C667.5,302.7 667.5,809.8 562,809.8Z"/>
</g>
<g fill="#26a2b3" stroke="#26a2b3" stroke-width="0">
<path stroke-width="1" d="M562,677.7C667.5,677.7 667.5,767.1 773,767.1L773,767.9C667.5,767.9 667.5,678.5 562,678.5Z"/>
</g>
<g fill="#2db38a" stroke="#2db38a" stroke-width="0">
<path stroke-width="1" d="M331,785.5C436.5,785.5 436.5,767.5 542,767.5L542,768.3C436.5,768.3 436.5,786.2 331,786.2Z"/>
</g>
<g fill="#7b5aeb" stroke="#7b5aeb" stroke-width="0">
<path stroke-width="1" d="M331,561.1C667.5,561.1 667.5,556 1004,556L1004,556.7C667.5,556.7 667.5,561.8 331,561.8Z"/>
</g>
<g fill="#5a6066" stroke="#5a6066" stroke-width="0">
<path stroke-width="1" d="M331,622.6C667.5,622.6 667.5,618.4 1004,618.4L1004,619.1C667.5,619.1 667.5,623.3 331,623.3Z"/>
<path stroke-width="1" d="M331,658C436.5,658 436.5,791.4 542,791.4L542,792.1C436.5,792.1 436.5,658.7 331,658.7Z"/>
</g>
<g fill="#2db38a" stroke="#2db38a" stroke-width="0">
<path stroke-width="1" d="M562,809.8C667.5,809.8 667.5,393.4 773,393.4L773,394.1C667.5,394.1 667.5,810.4 562,810.4Z"/>
</g>
<g fill="#f5a623" stroke="#f5a623" stroke-width="0">
<path stroke-width="1" d="M331,811.6C436.5,811.6 436.5,731.5 542,731.5L542,732.1C436.5,732.1 436.5,812.2 331,812.2Z"/>
</g>
<g fill="#2db38a" stroke="#2db38a" stroke-width="0">
<path stroke-width="1" d="M562,811.5C667.5,811.5 667.5,644.6 773,644.6L773,645.2C667.5,645.2 667.5,812.1 562,812.1Z"/>
</g>
<g fill="#7b5aeb" stroke="#7b5aeb" stroke-width="0">
<path stroke-width="1" d="M562,764.7C667.5,764.7 667.5,691.8 773,691.8L773,692.4C667.5,692.4 667.5,765.3 562,765.3Z"/>
</g>
<g fill="#e85a8f" stroke="#e85a8f" stroke-width="0">
<path stroke-width="1" d="M562,621.5C667.5,621.5 667.5,788.8 773,788.8L773,789.4C667.5,789.4 667.5,622.1 562,622.1Z"/>
</g>
<g fill="#f5a623" stroke="#f5a623" stroke-width="0">
<path stroke-width="1" d="M562,730.9C667.5,730.9 667.5,767.9 773,767.9L773,768.5C667.5,768.5 667.5,731.5 562,731.5Z"/>
</g>
<g fill="#e85a8f" stroke="#e85a8f" stroke-width="0">
<path stroke-width="1" d="M331,536C436.5,536 436.5,811.2 542,811.2L542,811.7C436.5,811.7 436.5,536.5 331,536.5Z"/>
</g>
<g fill="#2db38a" stroke="#2db38a" stroke-width="0">
<path stroke-width="1" d="M562,810.4C667.5,810.4 667.5,480.8 773,480.8L773,481.3C667.5,481.3 667.5,811 562,811Z"/>
</g>
<g fill="#f5a623" stroke="#f5a623" stroke-width="0">
<path stroke-width="1" d="M331,812.2C436.5,812.2 436.5,768.3 542,768.3L542,768.8C436.5,768.8 436.5,812.7 331,812.7Z"/>
</g>
<g fill="#3e9651" stroke="#3e9651" stroke-width="0">
<path stroke-width="1" d="M562,526.1C667.5,526.1 667.5,788.3 773,788.3L773,788.8C667.5,788.8 667.5,526.6 562,526.6Z"/>
</g>
<g fill="#26a2b3" stroke="#26a2b3" stroke-width="0">
<path stroke-width="1" d="M331,680.4C667.5,680.4 667.5,657.5 1004,657.5L1004,658C667.5,658 667.5,680.9 331,680.9Z"/>
</g>
<g fill="#2db38a" stroke="#2db38a" stroke-width="0">
<path stroke-width="1" d="M562,811C667.5,811 667.5,564.7 773,564.7L773,565.2C667.5,565.2 667.5,811.5 562,811.5Z"/>
</g>
<g fill="#84bd2c" stroke="#84bd2c" stroke-width="0">
<path stroke-width="1" d="M562,322.3C667.5,322.3 667.5,787.4 773,787.4L773,787.9C667.5,787.9 667.5,322.8 562,322.8Z"/>
</g>
<g fill="#26a2b3" stroke="#26a2b3" stroke-width="0">
<path stroke-width="1" d="M331,707.9C436.5,707.9 436.5,792.1 542,792.1L542,792.6C436.5,792.6 436.5,708.4 331,708.4Z"/>
</g>
<g fill="#383b3e" stroke="#383b3e" stroke-width="0">
<path stroke-width="1" d="M331,753.2C436.5,753.2 436.5,792.6 542,792.6L542,793C436.5,793 436.5,753.7 331,753.7Z"/>
<path stroke-width="1" d="M562,792.1C667.5,792.1 667.5,738.7 773,738.7L773,739.2C667.5,739.2 667.5,792.6 562,792.6Z"/>
<path stroke-width="1" d="M562,792.6C667.5,792.6 667.5,770.6 773,770.6L773,771.1C667.5,771.1 667.5,793 562,793Z"/>
<path stroke-width="1" d="M562,791.7C667.5,791.7 667.5,692.4 773,692.4L773,692.9C667.5,692.9 667.5,792.1 562,792.1Z"/>
<path stroke-width="1" d="M331,730.7C667.5,730.7 667.5,694.6 1004,694.6L1004,695C667.5,695 667.5,731.1 331,731.1Z"/>
</g>
<g fill="#2db38a" stroke="#2db38a" stroke-width="0">
<path stroke-width="1" d="M793,790C898.5,790 898.5,770.3 1004,770.3L1004,770.7C898.5,770.7 898.5,790.4 793,790.4Z"/>
</g>
<g fill="#2e75b6" stroke="#2e75b6" stroke-width="0">
<path stroke-width="1" d="M562,425C667.5,425 667.5,787.9 773,787.9L773,788.3C667.5,788.3 667.5,425.4 562,425.4Z"/>
</g>
<g fill="#7b5aeb" stroke="#7b5aeb" stroke-width="0">
<path stroke-width="1" d="M331,598.2C436.5,598.2 436.5,811.7 542,811.7L542,812.1C436.5,812.1 436.5,598.6 331,598.6Z"/>
</g>
<g fill="#26a2b3" stroke="#26a2b3" stroke-width="0">
<path stroke-width="1" d="M562,678.7C667.5,678.7 667.5,811.4 773,811.4L773,811.7C667.5,811.7 667.5,679.1 562,679.1Z"/>
</g>
<g fill="#5a6066" stroke="#5a6066" stroke-width="0">
<path stroke-width="1" d="M331,658.7C436.5,658.7 436.5,812.1 542,812.1L542,812.4C436.5,812.4 436.5,659 331,659Z"/>
</g>
<g fill="#f5a623" stroke="#f5a623" stroke-width="0">
<path stroke-width="1" d="M562,731.8C667.5,731.8 667.5,811.7 773,811.7L773,812C667.5,812 667.5,732.1 562,732.1Z"/>
</g>
<g fill="#2db38a" stroke="#2db38a" stroke-width="0">
<path stroke-width="1" d="M331,773.2C667.5,773.2 667.5,714.8 1004,714.8L1004,715.1C667.5,715.1 667.5,773.5 331,773.5Z"/>
</g>
<g fill="#26a2b3" stroke="#26a2b3" stroke-width="0">
<path stroke-width="1" d="M562,678.5C667.5,678.5 667.5,789.4 773,789.4L773,789.7C667.5,789.7 667.5,678.7 562,678.7Z"/>
</g>
<g fill="#7b5aeb" stroke="#7b5aeb" stroke-width="0">
<path stroke-width="1" d="M562,768.5C667.5,768.5 667.5,812 773,812L773,812.3C667.5,812.3 667.5,768.8 562,768.8Z"/>
</g>
<g fill="#f5a623" stroke="#f5a623" stroke-width="0">
<path stroke-width="1" d="M562,731.5C667.5,731.5 667.5,789.7 773,789.7L773,789.9C667.5,789.9 667.5,731.8 562,731.8Z"/>
</g>
<g fill="#26a2b3" stroke="#26a2b3" stroke-width="0">
<path stroke-width="1" d="M331,708.4C436.5,708.4 436.5,812.4 542,812.4L542,812.6C436.5,812.6 436.5,708.6 331,708.6Z"/>
</g>
<g fill="#2db38a" stroke="#2db38a" stroke-width="0">
<path stroke-width="1" d="M562,812.3C667.5,812.3 667.5,739.2 773,739.2L773,739.4C667.5,739.4 667.5,812.5 562,812.5Z"/>
<path stroke-width="1" d="M562,812.6C667.5,812.6 667.5,771.1 773,771.1L773,771.3C667.5,771.3 667.5,812.8 562,812.8Z"/>
<path stroke-width="1" d="M562,812.1C667.5,812.1 667.5,692.9 773,692.9L773,693.1C667.5,693.1 667.5,812.3 562,812.3Z"/>
</g>
<g fill="#383b3e" stroke="#383b3e" stroke-width="0">
<path stroke-width="1" d="M331,753.7C436.5,753.7 436.5,812.6 542,812.6L542,812.9C436.5,812.9 436.5,753.9 331,753.9Z"/>
</g>
<g fill="#f5a623" stroke="#f5a623" stroke-width="0">
<path stroke-width="1" d="M331,812.7C436.5,812.7 436.5,793.2 542,793.2L542,793.4C436.5,793.4 436.5,813 331,813Z"/>
</g>
<g fill="#383b3e" stroke="#383b3e" stroke-width="0">
<path stroke-width="1" d="M562,793.2C667.5,793.2 667.5,812.3 773,812.3L773,812.5C667.5,812.5 667.5,793.4 562,793.4Z"/>
</g>
<g fill="#2db38a" stroke="#2db38a" stroke-width="0">
<path stroke-width="1" d="M331,786.2C436.5,786.2 436.5,793 542,793L542,793.2C436.5,793.2 436.5,786.4 331,786.4Z"/>
</g>
<g fill="#f5a623" stroke="#f5a623" stroke-width="0">
<path stroke-width="1" d="M331,803.7C667.5,803.7 667.5,720.6 1004,720.6L1004,720.8C667.5,720.8 667.5,803.9 331,803.9Z"/>
</g>
<g fill="#7b5aeb" stroke="#7b5aeb" stroke-width="0">
<path stroke-width="1" d="M562,768.3C667.5,768.3 667.5,789.9 773,789.9L773,790.1C667.5,790.1 667.5,768.5 562,768.5Z"/>
</g>
<g fill="#383b3e" stroke="#383b3e" stroke-width="0">
<path stroke-width="1" d="M562,793C667.5,793 667.5,790.1 773,790.1L773,790.3C667.5,790.3 667.5,793.2 562,793.2Z"/>
</g>
<g fill="#5a6066" stroke="#5a6066" stroke-width="0">
<path stroke-width="1" d="M562,211.6C783,211.6 783,744 1004,744L1004,744.1C783,744.1 783,211.8 562,211.8Z"/>
</g>
<g fill="#84bd2c" stroke="#84bd2c" stroke-width="0">
<path stroke-width="1" d="M562,319.9C783,319.9 783,749.5 1004,749.5L1004,749.7C783,749.7 783,320 562,320Z"/>
</g>
<g fill="#2e75b6" stroke="#2e75b6" stroke-width="0">
<path stroke-width="1" d="M562,422.1C783,422.1 783,753.4 1004,753.4L1004,753.5C783,753.5 783,422.2 562,422.2Z"/>
</g>
<g fill="#3e9651" stroke="#3e9651" stroke-width="0">
<path stroke-width="1" d="M562,524C783,524 783,756.8 1004,756.8L1004,756.9C783,756.9 783,524.1 562,524.1Z"/>
</g>
<g fill="#e85a8f" stroke="#e85a8f" stroke-width="0">
<path stroke-width="1" d="M562,618.1C783,618.1 783,759.3 1004,759.3L1004,759.5C783,759.5 783,618.2 562,618.2Z"/>
</g>
<g fill="#2db38a" stroke="#2db38a" stroke-width="0">
<path stroke-width="1" d="M562,812.8C667.5,812.8 667.5,790.3 773,790.3L773,790.4C667.5,790.4 667.5,812.9 562,812.9Z"/>
<path stroke-width="1" d="M562,812.9C667.5,812.9 667.5,812.5 773,812.5L773,812.6C667.5,812.6 667.5,813 562,813Z"/>
<path stroke-width="1" d="M331,786.4C436.5,786.4 436.5,812.9 542,812.9L542,813C436.5,813 436.5,786.5 331,786.5Z"/>
</g>
<g fill="#26a2b3" stroke="#26a2b3" stroke-width="0">
<path stroke-width="1" d="M562,677.6C783,677.6 783,763.2 1004,763.2L1004,763.3C783,763.3 783,677.7 562,677.7Z"/>
</g>
<g fill="#f5a623" stroke="#f5a623" stroke-width="0">
<path stroke-width="1" d="M562,730.9C783,730.9 783,765.9 1004,765.9L1004,766C783,766 783,730.9 562,730.9Z"/>
</g>
<g fill="#3e9651" stroke="#3e9651" stroke-width="0">
<path stroke-width="1" d="M331,220C667.5,220 667.5,743.9 1004,743.9L1004,744C667.5,744 667.5,220.1 331,220.1Z"/>
</g>
<g fill="#84bd2c" stroke="#84bd2c" stroke-width="0">
<path stroke-width="1" d="M331,340C667.5,340 667.5,749.7 1004,749.7L1004,749.7C667.5,749.7 667.5,340.1 331,340.1Z"/>
</g>
<g fill="#2e75b6" stroke="#2e75b6" stroke-width="0">
<path stroke-width="1" d="M331,445.5C667.5,445.5 667.5,753.5 1004,753.5L1004,753.6C667.5,753.6 667.5,445.5 331,445.5Z"/>
</g>
<g fill="#7b5aeb" stroke="#7b5aeb" stroke-width="0">
<path stroke-width="1" d="M562,766.1C783,766.1 783,768.3 1004,768.3L1004,768.4C783,768.4 783,766.1 562,766.1Z"/>
</g>
<g fill="#f5a623" stroke="#f5a623" stroke-width="0">
<path stroke-width="1" d="M331,813C436.5,813 436.5,813 542,813L542,813C436.5,813 436.5,813 331,813Z"/>
</g>
<g fill="#e85a8f" stroke="#e85a8f" stroke-width="0">
<path stroke-width="1" d="M331,532C667.5,532 667.5,756.9 1004,756.9L1004,756.9C667.5,756.9 667.5,532 331,532Z"/>
</g>
<g fill="#383b3e" stroke="#383b3e" stroke-width="0">
<path stroke-width="1" d="M562,792.6C783,792.6 783,770.3 1004,770.3L1004,770.3C783,770.3 783,792.6 562,792.6Z"/>
</g>
<g fill="#7b5aeb" stroke="#7b5aeb" stroke-width="0">
<path stroke-width="1" d="M331,596.1C667.5,596.1 667.5,759.5 1004,759.5L1004,759.5C667.5,759.5 667.5,596.2 331,596.2Z"/>
</g>
<g fill="#5a6066" stroke="#5a6066" stroke-width="0">
<path stroke-width="1" d="M331,656.4C667.5,656.4 667.5,763.2 1004,763.2L1004,763.2C667.5,763.2 667.5,656.4 331,656.4Z"/>
</g>
<g fill="#2db38a" stroke="#2db38a" stroke-width="0">
<path stroke-width="1" d="M562,812.5C783,812.5 783,771.6 1004,771.6L1004,771.6C783,771.6 783,812.6 562,812.6Z"/>
</g>
<g fill="#26a2b3" stroke="#26a2b3" stroke-width="0">
<path stroke-width="1" d="M331,706.3C667.5,706.3 667.5,765.9 1004,765.9L1004,765.9C667.5,765.9 667.5,706.3 331,706.3Z"/>
</g>
<g fill="#383b3e" stroke="#383b3e" stroke-width="0">
<path stroke-width="1" d="M331,752C667.5,752 667.5,768.3 1004,768.3L1004,768.3C667.5,768.3 667.5,752.1 331,752.1Z"/>
</g>
<g fill="#2db38a" stroke="#2db38a" stroke-width="0">
<path stroke-width="1" d="M331,785.4C667.5,785.4 667.5,770.2 1004,770.2L1004,770.3C667.5,770.3 667.5,785.5 331,785.5Z"/>
</g>
<g fill="#f5a623" stroke="#f5a623" stroke-width="0">
<path stroke-width="1" d="M331,812.2C667.5,812.2 667.5,770.7 1004,770.7L1004,770.7C667.5,770.7 667.5,812.2 331,812.2Z"/>
</g></g>
<g shape-rendering="crispEdges">
<rect x="80" y="158" width="20" height="579" fill="#d5d9dd"/>
<rect x="311" y="100" width="20" height="129" fill="#3e9651"/>
<rect x="311" y="243" width="20" height="104" fill="#84bd2c"/>
<rect x="311" y="361" width="20" height="91" fill="#2e75b6"/>
<rect x="311" y="466" width="20" height="71" fill="#e85a8f"/>
<rect x="311" y="551" width="20" height="48" fill="#7b5aeb"/>
<rect x="311" y="613" width="20" height="46" fill="#5a6066"/>
<rect x="311" y="674" width="20" height="35" fill="#26a2b3"/>
<rect x="311" y="724" width="20" height="30" fill="#383b3e"/>
<rect x="311" y="769" width="20" height="18" fill="#2db38a"/>
<rect x="311" y="801" width="20" height="12" fill="#f5a623"/>
<rect x="542" y="110" width="20" height="108" fill="#5a6066"/>
<rect x="542" y="232" width="20" height="92" fill="#84bd2c"/>
<rect x="542" y="339" width="20" height="88" fill="#2e75b6"/>
<rect x="542" y="441" width="20" height="87" fill="#3e9651"/>
<rect x="542" y="542" width="20" height="82" fill="#e85a8f"/>
<rect x="542" y="638" width="20" height="42" fill="#26a2b3"/>
<rect x="542" y="694" width="20" height="39" fill="#f5a623"/>
<rect x="542" y="747" width="20" height="22" fill="#7b5aeb"/>
<rect x="542" y="784" width="20" height="10" fill="#383b3e"/>
<rect x="542" y="808" width="20" height="5" fill="#2db38a"/>
<rect x="773" y="216" width="20" height="87" fill="#5a6066"/>
<rect x="773" y="318" width="20" height="77" fill="#84bd2c"/>
<rect x="773" y="409" width="20" height="73" fill="#3e9651"/>
<rect x="773" y="497" width="20" height="69" fill="#2e75b6"/>
<rect x="773" y="580" width="20" height="66" fill="#e85a8f"/>
<rect x="773" y="660" width="20" height="34" fill="#26a2b3"/>
<rect x="773" y="708" width="20" height="32" fill="#f5a623"/>
<rect x="773" y="754" width="20" height="18" fill="#7b5aeb"/>
<rect x="773" y="786" width="20" height="5" fill="#2db38a"/>
<rect x="773" y="805" width="20" height="8" fill="#383b3e"/>
<rect x="1004" y="178" width="20" height="551" fill="#b0b7be"/>
<rect x="1004" y="743" width="20" height="29" fill="#e05a26"/>
</g>
<g shape-rendering="crispEdges" fill="none" stroke="#444" stroke-opacity="0.47" stroke-width="1">
<rect x="80.5" y="158.5" width="19" height="578"/>
<rect x="311.5" y="100.5" width="19" height="128"/>
<rect x="311.5" y="243.5" width="19" height="103"/>
<rect x="311.5" y="361.5" width="19" height="90"/>
<rect x="311.5" y="466.5" width="19" height="70"/>
<rect x="311.5" y="551.5" width="19" height="47"/>
<rect x="311.5" y="613.5" width="19" height="45"/>
<rect x="311.5" y="674.5" width="19" height="34"/>
<rect x="311.5" y="724.5" width="19" height="29"/>
<rect x="311.5" y="769.5" width="19" height="17"/>
<rect x="311.5" y="801.5" width="19" height="11"/>
<rect x="542.5" y="110.5" width="19" height="107"/>
<rect x="542.5" y="232.5" width="19" height="91"/>
<rect x="542.5" y="339.5" width="19" height="87"/>
<rect x="542.5" y="441.5" width="19" height="86"/>
<rect x="542.5" y="542.5" width="19" height="81"/>
<rect x="542.5" y="638.5" width="19" height="41"/>
<rect x="542.5" y="694.5" width="19" height="38"/>
<rect x="542.5" y="747.5" width="19" height="21"/>
<rect x="542.5" y="784.5" width="19" height="9"/>
<rect x="542.5" y="808.5" width="19" height="4"/>
<rect x="773.5" y="216.5" width="19" height="86"/>
<rect x="773.5" y="318.5" width="19" height="76"/>
<rect x="773.5" y="409.5" width="19" height="72"/>
<rect x="773.5" y="497.5" width="19" height="68"/>
<rect x="773.5" y="580.5" width="19" height="65"/>
<rect x="773.5" y="660.5" width="19" height="33"/>
<rect x="773.5" y="708.5" width="19" height="31"/>
<rect x="773.5" y="754.5" width="19" height="17"/>
<rect x="773.5" y="786.5" width="19" height="4"/>
<rect x="773.5" y="805.5" width="19" height="7"/>
<rect x="1004.5" y="178.5" width="19" height="550"/>
<rect x="1004.5" y="743.5" width="19" height="28"/>
</g>
<g class="lb">
<text x="103.9" y="451.1" textLength="24.4">Start</text>
<text x="334.9" y="168" textLength="88.1">1. organic_search</text>
<text x="334.9" y="298.7" textLength="72.5">1. paid_search</text>
<text x="334.9" y="410.1" textLength="81.1">1. facebook_ads</text>
<text x="334.9" y="505.2" textLength="86.1">1. instagram_ads</text>
<text x="334.9" y="578.8" textLength="50.3">1. affiliate</text>
<text x="334.9" y="640.1" textLength="41.3">1. direct</text>
<text x="334.9" y="695.1" textLength="48.2">1. display</text>
<text x="334.9" y="742.8" textLength="63.7">1. tiktok_ads</text>
<text x="334.9" y="781.6" textLength="61.3">1. whatsapp</text>
<text x="334.9" y="810.8" textLength="40.3">1. email</text>
<text x="565.9" y="167.5" textLength="41.3">2. direct</text>
<text x="565.9" y="281.7" textLength="72.5">2. paid_search</text>
<text x="565.9" y="386.5" textLength="81.1">2. facebook_ads</text>
<text x="565.9" y="488.1" textLength="88.1">2. organic_search</text>
<text x="565.9" y="586.5" textLength="86.1">2. instagram_ads</text>
<text x="565.9" y="661.2" textLength="48.2">2. display</text>
<text x="565.9" y="717" textLength="40.3">2. email</text>
<text x="565.9" y="761.8" textLength="50.3">2. affiliate</text>
<text x="565.9" y="792.5" textLength="63.7">2. tiktok_ads</text>
<text x="565.9" y="814.3" textLength="61.3">2. whatsapp</text>
<text x="796.9" y="263.2" textLength="41.3">3. direct</text>
<text x="796.9" y="360" textLength="72.5">3. paid_search</text>
<text x="796.9" y="449.1" textLength="88.1">3. organic_search</text>
<text x="796.9" y="534.9" textLength="81.1">3. facebook_ads</text>
<text x="796.9" y="616.5" textLength="86.1">3. instagram_ads</text>
<text x="796.9" y="680.5" textLength="48.2">3. display</text>
<text x="796.9" y="727.6" textLength="40.3">3. email</text>
<text x="796.9" y="766.7" textLength="50.3">3. affiliate</text>
<text x="796.9" y="792.2" textLength="61.3">3. whatsapp</text>
<text x="796.9" y="812.8" textLength="63.7">3. tiktok_ads</text>
<text x="1000" y="457.2" text-anchor="end" textLength="42.9">Dropped</text>
<text x="1000" y="760.3" text-anchor="end" textLength="52">Converted</text>
</g>
<text x="55.4" y="50" textLength="226" style="font-size:14.5px">User Journey Flow (Top 3 steps)</text>
</svg></body></html>
